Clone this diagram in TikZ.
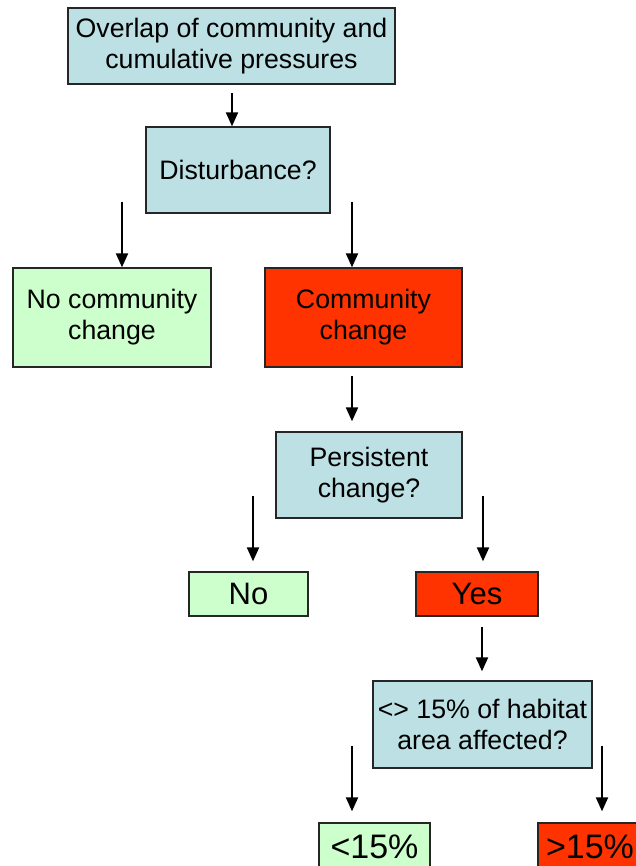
\documentclass[tikz,border=0pt]{standalone}
\usepackage{fontspec}
\setmainfont{Liberation Sans}
\usepackage{xcolor}
\definecolor{paleblue}{RGB}{188,224,228}
\definecolor{palegreen}{RGB}{204,255,204}
\definecolor{hotred}{RGB}{255,51,0}
\usepackage{tikz}
\usetikzlibrary{arrows.meta,calc}
\tikzset{
  box/.style={rectangle, draw=black!85, line width=1.3pt, text=black, align=center, inner sep=0pt},
  quest/.style={box, fill=paleblue, font=\fontsize{26.7}{31}\selectfont},
  nochg/.style={box, fill=palegreen, font=\fontsize{26.7}{31}\selectfont},
  chg/.style={box, fill=hotred, font=\fontsize{26.7}{31}\selectfont},
  answ/.style={font=\fontsize{31}{36}\selectfont},
  pct/.style={font=\fontsize{34}{40}\selectfont},
  line/.style={draw, line width=2pt, -{Triangle[width=12pt,length=14pt]}},
}
\begin{document}
\begin{tikzpicture}[x=1pt,y=1pt]
  \useasboundingbox (0,0) rectangle (636,-866);
  \clip (0,0) rectangle (636,-866);

  \node[quest, minimum width=327pt, minimum height=76pt] (ov) at (231.5,-46) {Overlap of community and\\cumulative pressures};
  \node[quest, minimum width=184pt, minimum height=86pt] (dist) at (238,-170) {Disturbance?};
  \node[nochg, minimum width=198pt, minimum height=99pt] (nocom) at (112,-317.5) {No community\\change};
  \node[chg, minimum width=197pt, minimum height=99pt] (com) at (363.5,-317.5) {Community\\change};
  \node[quest, minimum width=186pt, minimum height=86pt] (pers) at (369,-475) {Persistent\\change?};
  \node[nochg, answ, minimum width=119pt, minimum height=44pt] (no) at (248.5,-594) {No};
  \node[chg, answ, minimum width=122pt, minimum height=44pt] (yes) at (477,-594) {Yes};
  \node[quest, minimum width=219pt, minimum height=87pt] (hab) at (482.5,-724.5) {<> 15\% of habitat\\area affected?};
  \node[nochg, pct, minimum width=111pt, minimum height=48pt] (lt) at (374.5,-847) {<15\%};
  \node[chg, pct, minimum width=104pt, minimum height=48pt] (gt) at (590,-847) {>15\%};

  % arrow starts
  \coordinate (a1) at (232,-93);
  \coordinate (a2) at (122,-202);
  \coordinate (a3) at (352,-202);
  \coordinate (a4) at (352,-376);
  \coordinate (a5) at (253,-496);
  \coordinate (a6) at (483,-496);
  \coordinate (a7) at (482,-627);
  \coordinate (a8) at (352,-746);
  \coordinate (a9) at (602,-746);

  \begin{scope}[every path/.style=line]
    \path (a1) -- (a1 |- dist.north);
    \path (a2) -- (a2 |- nocom.north);
    \path (a3) -- (a3 |- com.north);
    \path[shorten >=10pt] (a4) -- (a4 |- pers.north);
    \path[shorten >=10pt] (a5) -- (a5 |- no.north);
    \path[shorten >=10pt] (a6) -- (a6 |- yes.north);
    \path[shorten >=9pt] (a7) -- (a7 |- hab.north);
    \path[shorten >=11pt] (a8) -- (a8 |- lt.north);
    \path[shorten >=11pt] (a9) -- (a9 |- gt.north);
  \end{scope}
\end{tikzpicture}
\end{document}
